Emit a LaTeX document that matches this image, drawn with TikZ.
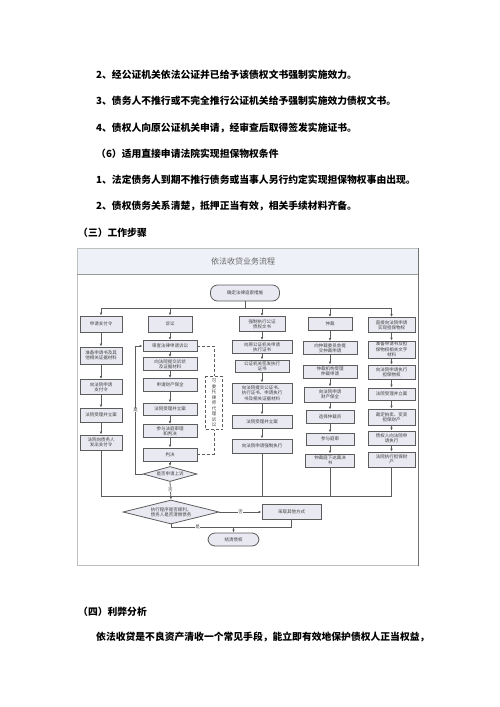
\documentclass[tikz,border=0pt]{standalone}
\usepackage{fontspec}
\newfontfamily\cjk{Noto Sans CJK SC}
\usetikzlibrary{shapes.geometric, arrows.meta, positioning, calc}
\definecolor{grigiofilo}{HTML}{5C5C5C}
\definecolor{riempi}{HTML}{E8E9F1}
\definecolor{testata}{HTML}{EFF1F8}

\begin{document}
\begin{tikzpicture}[
  x=1pt, y=-1pt,
  riga/.style={anchor=west, inner sep=0pt, font=\cjk\bfseries\fontsize{9.8}{12}\selectfont},
  filo/.style={draw=grigiofilo, line width=0.8pt},
  freccia/.style={filo, -{Latex[length=3pt,width=2.6pt]}},
  tratteggio/.style={draw=grigiofilo, line width=0.6pt, densely dashed},
  casella/.style={draw=grigiofilo, line width=0.8pt, fill=riempi, inner sep=0.5pt,
    align=center, text=black!75, font=\cjk\fontsize{4.5}{5.4}\selectfont},
  ovale/.style={casella, rounded corners=7pt},
  rombo/.style={casella, diamond, inner sep=0pt},
  etichetta/.style={fill=white, inner sep=0.5pt, text=black!70, font=\cjk\fontsize{4.5}{5}\selectfont}
]
\useasboundingbox (0,0) rectangle (500,707);

% Testo della pagina
\node[riga] (r1) at (96,75) {2、经公证机关依法公证并已给予该债权文书强制实施效力。};
\node[riga] (r2) at (96,101) {3、债务人不推行或不完全推行公证机关给予强制实施效力债权文书。};
\node[riga] (r3) at (96,128) {4、债权人向原公证机关申请，经审查后取得签发实施证书。};
\node[riga] (r4) at (96,154) {（6）适用直接申请法院实现担保物权条件};
\node[riga] (r5) at (96,180) {1、法定债务人到期不推行债务或当事人另行约定实现担保物权事由出现。};
\node[riga] (r6) at (96,206) {2、债权债务关系清楚，抵押正当有效，相关手续材料齐备。};
\node[riga] (r7) at (78,233) {（三）工作步骤};
\node[riga] (r8) at (78,612) {（四）利弊分析};
\node[riga] (r9) at (96,637) {依法收贷是不良资产清收一个常见手段，能立即有效地保护债权人正当权益，};

% Cornice del diagramma
\fill[testata] (77,248) rectangle (418,274);
\draw[draw=black!25, line width=0.5pt] (77,248) rectangle (418,565);
\draw[draw=black!40, line width=0.6pt] (77,274) -- (418,274);
\draw[draw=black!55, line width=0.8pt] (418,248) -- (418,566);
\node[text=black!60, font=\cjk\fontsize{8}{9}\selectfont] (titolo) at (243,261) {依法收贷业务流程};

% Avvio
\node[ovale, minimum width=69pt, minimum height=16pt] (avvio) at (245,293) {确定法律追索措施};
\coordinate (s1) at (101,308);
\coordinate (s2) at (170,308);
\coordinate (s3) at (262,308);
\coordinate (s4) at (330,308);
\coordinate (s5) at (391.5,308);
\draw[filo] (avvio.south) -- (avvio.south |- s1);
\draw[filo] (s1) -- (s5);

% Colonna 1
\node[casella, minimum width=42pt, minimum height=16pt] (c1a) at (101,324) {申请支付令};
\node[casella, minimum width=42pt, minimum height=17pt] (c1b) at (101,355.5) {准备申请书及其\\他相关证据材料};
\node[casella, minimum width=42pt, minimum height=15pt] (c1c) at (101,387) {向法院申请\\支付令};
\node[casella, minimum width=42pt, minimum height=14pt] (c1d) at (101,415) {法院受理并立案};
\node[casella, minimum width=42pt, minimum height=15pt] (c1e) at (101,442.5) {法院向债务人\\发出支付令};

% Colonna 2
\node[casella, minimum width=44pt, minimum height=16pt] (c2a) at (170,324) {诉讼};
\node[casella, minimum width=54pt, minimum height=11pt] (c2b) at (170,346) {审查法律申请诉讼};
\node[casella, minimum width=54pt, minimum height=13pt] (c2c) at (170,364) {向法院提交诉状\\及证据材料};
\node[casella, minimum width=54pt, minimum height=13pt] (c2d) at (170,385) {申请财产保全};
\node[casella, minimum width=54pt, minimum height=12pt] (c2e) at (170,409) {法院受理并立案};
\node[casella, minimum width=54pt, minimum height=13pt] (c2f) at (170,431) {参与法庭审理\\和判决};
\node[casella, minimum width=54pt, minimum height=13pt] (c2g) at (170,454.5) {判决};
\node[rombo, aspect=3.6, minimum width=54pt, minimum height=15pt] (ricorso) at (170,474) {是否申请上诉};
\node[casella, densely dashed, line width=0.6pt, fill=white, minimum width=17pt, minimum height=53pt,
  font=\cjk\fontsize{4.5}{5.5}\selectfont] (nota) at (214,403) {可\\委\\托\\律\\师\\代\\理\\诉\\讼};

% Colonna 3
\node[casella, minimum width=46pt, minimum height=15pt] (c3a) at (262,324) {强制执行公证\\债权文书};
\node[casella, minimum width=60pt, minimum height=13pt] (c3b) at (262,347) {向原公证机关申请\\执行证书};
\node[casella, minimum width=54pt, minimum height=12pt] (c3c) at (262,366) {公证机关签发执行\\证书};
\node[casella, minimum width=60pt, minimum height=20pt] (c3d) at (262,393) {向法院提交公证书、\\执行证书、申请执行\\书及相关证据材料};
\node[casella, minimum width=60pt, minimum height=13pt] (c3e) at (262,421.5) {法院受理并立案};
\node[casella, minimum width=60pt, minimum height=14pt] (c3f) at (262,446) {向法院申请强制执行};

% Colonna 4
\node[casella, minimum width=44pt, minimum height=13pt] (c4a) at (330,324) {仲裁};
\node[casella, minimum width=54pt, minimum height=13pt] (c4b) at (330,348) {向仲裁委员会提\\交仲裁申请};
\node[casella, minimum width=54pt, minimum height=13pt] (c4c) at (330,371.5) {仲裁机构受理\\仲裁申请};
\node[casella, minimum width=51pt, minimum height=15pt] (c4d) at (330,394.5) {向法院申请\\财产保全};
\node[casella, minimum width=48pt, minimum height=13pt] (c4e) at (330,416.5) {选择仲裁员};
\node[casella, minimum width=48pt, minimum height=12pt] (c4f) at (330,439) {参与庭审};
\node[casella, minimum width=49pt, minimum height=13pt] (c4g) at (330,460.5) {仲裁庭下达裁决\\书};

% Colonna 5
\node[casella, minimum width=47pt, minimum height=15pt] (c5a) at (391.5,325) {直接向法院申请\\实现担保物权};
\node[casella, minimum width=47pt, minimum height=17pt] (c5b) at (391.5,349.5) {准备申请书及担\\保物权相关文字\\材料};
\node[casella, minimum width=47pt, minimum height=14pt] (c5c) at (391.5,372) {向法院申请执行\\担保物权};
\node[casella, minimum width=47pt, minimum height=12pt] (c5d) at (391.5,394) {法院受理并立案};
\node[casella, minimum width=47pt, minimum height=16pt] (c5e) at (391.5,417) {裁定拍卖、变卖\\担保财产};
\node[casella, minimum width=47pt, minimum height=14pt] (c5f) at (391.5,438) {债权人向法院申\\请执行};
\node[casella, minimum width=47pt, minimum height=15pt] (c5g) at (391.5,459.5) {法院执行担保财\\产};

% Esecuzione e chiusura
\node[rombo, aspect=4, minimum width=96pt, minimum height=24pt] (esec) at (171,512) {执行程序是否顺利，\\债务人是否清偿债务};
\node[casella, minimum width=59pt, minimum height=15pt] (altro) at (291.5,512) {采取其他方式};
\node[ovale, minimum width=51pt, minimum height=13pt] (fine) at (233.5,539.5) {结清债权};

% Collegamenti
\foreach \s/\c in {s1/c1a, s2/c2a, s3/c3a, s4/c4a, s5/c5a}
  \draw[freccia] (\s) -- (\c);
\foreach \a/\b in {c1a/c1b, c1b/c1c, c1c/c1d, c1d/c1e,
                   c2a/c2b, c2b/c2c, c2c/c2d, c2d/c2e, c2e/c2f, c2f/c2g, c2g/ricorso,
                   c3a/c3b, c3b/c3c, c3c/c3d, c3d/c3e, c3e/c3f,
                   c4a/c4b, c4b/c4c, c4c/c4d, c4d/c4e, c4e/c4f, c4f/c4g,
                   c5a/c5b, c5b/c5c, c5c/c5d, c5d/c5e, c5e/c5f, c5f/c5g}
  \draw[freccia] (\a) -- (\b);

\draw[tratteggio] (c2b.east) -| (nota.north);
\draw[tratteggio] (c2g.east) -| (nota.south);
\draw[freccia] (ricorso.west) -- ++(-7,0) |- node[etichetta, pos=0.25] {是} (c2b.west);

\coordinate (m5) at (391.5,496);
\draw[filo] (c1e.south) |- (m5);
\draw[filo] (c3f.south) -- (c3f.south |- m5);
\draw[filo] (c4g.south) -- (c4g.south |- m5);
\draw[filo] (c5g.south) -- (m5);
\draw[freccia] (ricorso.south) -- node[etichetta, pos=0.45] {否} (esec.north);
\draw[freccia] (esec.east) -- node[etichetta] {否} (altro.west);

\coordinate (b1) at (171,527);
\coordinate (b2) at (291.5,527);
\coordinate (bm) at (233.5,527);
\draw[filo] (esec.south) -- (b1) -- node[etichetta, pos=0.22] {是} (b2) -- (altro.south);
\draw[freccia] (bm) -- (fine);

\end{tikzpicture}
\end{document}
